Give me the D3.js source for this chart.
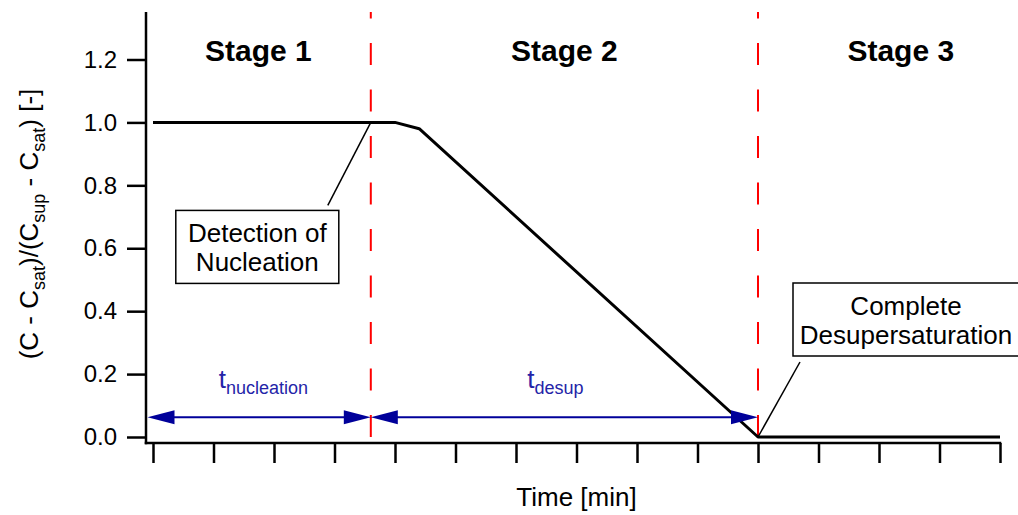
<!DOCTYPE html>
<html>
<head>
<meta charset="utf-8">
<script src="https://cdn.jsdelivr.net/npm/d3@7"></script>
<style>
  html, body { margin: 0; padding: 0; background: #fff; }
  svg { display: block; font-family: "Liberation Sans", Arial, sans-serif; }
</style>
</head>
<body>
<svg id="chart" width="1018" height="515"></svg>
<script>
// Normalised supersaturation profile over time (x in minutes, arbitrary units)
const profileTime  = [0, 4.0, 4.4, 10, 14];
const profileValue = [1.0, 1.0, 0.98, 0.0, 0.0];

// Stage boundaries
const tNucleation = 3.6;   // detection of nucleation
const tComplete   = 10;    // complete desupersaturation

const yTicks = [0, 0.2, 0.4, 0.6, 0.8, 1.0, 1.2];
const xTicks = d3.range(0, 15);
const stageNames = ["Stage 1", "Stage 2", "Stage 3"];
const arrowLevel = 0.063;

const svg = d3.select("#chart");
const W = 1018, H = 515;

const x = d3.scaleLinear().domain([0, 14]).range([153, 1000]);
const y = d3.scaleLinear().domain([0, 1.2]).range([437, 59.5]);

const axisX = 146;      // left axis position
const axisY = 443;      // bottom axis position
const axisTop = 12;

// --- axes ---
const yAxis = d3.axisLeft(y).tickValues(yTicks).tickSize(19).tickPadding(10)
  .tickFormat(d3.format(".1f"));
const gy = svg.append("g").attr("transform", `translate(${axisX},0)`).call(yAxis);
gy.select(".domain").remove();
gy.selectAll(".tick line").attr("stroke", "#000").attr("stroke-width", 2.5);
gy.selectAll(".tick text").attr("font-size", 24).attr("fill", "#000")
  .attr("font-family", "Liberation Sans, Arial, sans-serif");

const xAxis = d3.axisBottom(x).tickValues(xTicks).tickSize(20).tickFormat("");
const gx = svg.append("g").attr("transform", `translate(0,${axisY})`).call(xAxis);
gx.select(".domain").remove();
gx.selectAll(".tick line").attr("stroke", "#000").attr("stroke-width", 2.5);

svg.append("line").attr("x1", axisX).attr("x2", axisX).attr("y1", axisTop).attr("y2", axisY + 1.25)
  .attr("stroke", "#000").attr("stroke-width", 2.5);
svg.append("line").attr("x1", axisX - 1.25).attr("x2", x(14) + 1.25).attr("y1", axisY).attr("y2", axisY)
  .attr("stroke", "#000").attr("stroke-width", 2.5);

// --- axis titles ---
svg.append("text").attr("x", x(7)).attr("y", 506).attr("text-anchor", "middle")
  .attr("font-size", 26).attr("fill", "#000").text("Time [min]");

const yt = svg.append("text").attr("transform", "translate(38,224) rotate(-90)")
  .attr("text-anchor", "middle").attr("font-size", 26).attr("fill", "#000");
const yParts = [["(C - C", 0], ["sat", 1], [")/(C", 0], ["sup", 1], [" - C", 0], ["sat", 1], [") [-]", 0]];
let prevSub = 0;
yParts.forEach(([t, sub]) => {
  const ts = yt.append("tspan").text(t);
  const shift = 7;
  if (sub && !prevSub) ts.attr("dy", shift).attr("font-size", 18);
  else if (!sub && prevSub) ts.attr("dy", -shift);
  else if (sub) ts.attr("font-size", 18);
  prevSub = sub;
});

// --- stage boundaries ---
[tNucleation, tComplete].forEach(t => {
  svg.append("line").attr("x1", x(t)).attr("x2", x(t)).attr("y1", y(0)).attr("y2", axisTop)
    .attr("stroke", "#ff0000").attr("stroke-width", 2).attr("stroke-dasharray", "22,24.5");
});

// --- stage labels ---
const stageCenters = [(axisX + x(tNucleation)) / 2, (x(tNucleation) + x(tComplete)) / 2, x(12.36)];
stageNames.forEach((s, i) => {
  svg.append("text").attr("x", stageCenters[i]).attr("y", 61).attr("text-anchor", "middle")
    .attr("font-size", 30).attr("font-weight", "bold").attr("fill", "#000").text(s);
});

// --- profile ---
const pts = profileTime.map((t, i) => [t, profileValue[i]]);
svg.append("path").datum(pts)
  .attr("d", d3.line().x(d => x(d[0])).y(d => y(d[1])))
  .attr("fill", "none").attr("stroke", "#000").attr("stroke-width", 3).attr("stroke-linejoin", "round");

// --- duration arrows ---
const blue = "#00009a";
function arrow(x1, x2, yy) {
  svg.append("line").attr("x1", x1 + 20).attr("x2", x2 - 20).attr("y1", yy).attr("y2", yy)
    .attr("stroke", blue).attr("stroke-width", 2);
  const L = 27, h = 7;
  svg.append("path").attr("d", `M${x1},${yy} L${x1 + L},${yy - h} L${x1 + L},${yy + h} Z`).attr("fill", blue);
  svg.append("path").attr("d", `M${x2},${yy} L${x2 - L},${yy - h} L${x2 - L},${yy + h} Z`).attr("fill", blue);
}
const ay = y(arrowLevel);
arrow(axisX + 1.5, x(tNucleation), ay);
arrow(x(tNucleation), x(tComplete), ay);

function durationLabel(cx, sub) {
  const t = svg.append("text").attr("x", cx).attr("y", 388).attr("text-anchor", "middle")
    .attr("fill", "#2424a8").attr("font-size", 26);
  t.append("tspan").text("t");
  t.append("tspan").attr("dy", 6).attr("font-size", 18).text(sub);
}
durationLabel((axisX + x(tNucleation)) / 2 + 5, "nucleation");
durationLabel((x(tNucleation) + x(tComplete)) / 2 - 9, "desup");

// --- annotations ---
function callout(ax, ay, bx, by, bw, bh, lx, ly, lines) {
  svg.append("line").attr("x1", ax).attr("y1", ay).attr("x2", lx).attr("y2", ly)
    .attr("stroke", "#000").attr("stroke-width", 1.5);
  svg.append("rect").attr("x", bx).attr("y", by).attr("width", bw).attr("height", bh)
    .attr("fill", "#fff").attr("stroke", "#000").attr("stroke-width", 1.5);
  lines.forEach((l, i) => {
    svg.append("text").attr("x", bx + bw / 2).attr("y", by + 32 + i * 29).attr("text-anchor", "middle")
      .attr("font-size", 26).attr("fill", "#000").text(l);
  });
}
const n0x = x(tNucleation), n0y = y(1.0);
callout(n0x, n0y, n0x - 195, n0y + 88, 163, 73, n0x - 43, n0y + 83, ["Detection of", "Nucleation"]);
const c0x = x(tComplete), c0y = y(0);
callout(c0x, c0y, c0x + 35, c0y - 154, 226, 73, c0x + 42, c0y - 75, ["Complete", "Desupersaturation"]);
</script>
</body>
</html>
